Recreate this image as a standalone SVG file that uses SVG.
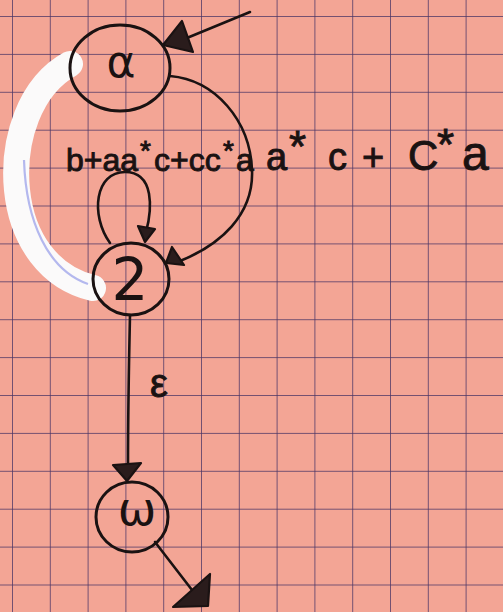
<svg xmlns="http://www.w3.org/2000/svg" width="503" height="612" viewBox="0 0 503 612">
<defs>
<pattern id="grid" x="12" y="16" width="37.8" height="37.9" patternUnits="userSpaceOnUse">
<path d="M0,0 V37.9 M0,0 H37.8" fill="none" stroke="#4a3565" stroke-width="1.5"/>
</pattern>
<style>
.node{fill:none;stroke:#1a1212;stroke-width:3}
.edge{fill:none;stroke:#1a1212;stroke-width:2.6;stroke-linecap:round}
.head{fill:#2a1c1c;stroke:#1a1212;stroke-width:2.2;stroke-linejoin:round}
.sym{font-family:"DejaVu Sans","Liberation Sans",sans-serif;fill:#1a1212;text-anchor:middle}
.lbl{font-family:"Liberation Sans","DejaVu Sans",sans-serif;fill:#1a1212;stroke:#1a1212;stroke-width:0.9}
</style>
</defs>
<rect width="503" height="612" fill="#f3a595"/>
<rect width="503" height="612" fill="url(#grid)"/>
<g id="whiteout">
<path d="M70,64 C30,86 12,140 17,190 C22,240 50,278 93,288" fill="none" stroke="#fbfafa" stroke-width="26" stroke-linecap="round"/>
<path d="M24,160 C26,222 48,270 88,284" fill="none" stroke="#b4b8ee" stroke-width="2.2"/>
</g>
<g id="edges">
<path class="edge" d="M250,12 L182,40"/>
<polygon class="head" points="163,45 182,21 193,52"/>
<path class="edge" d="M170,76 C215,80 250,120 252,170 C254,215 220,245 180,261"/>
<polygon class="head" points="166,263 172,247 184,265"/>
<path class="edge" d="M110,243 C90,215 95,172 125,172 C155,172 152,210 146,232"/>
<polygon class="head" points="145,242 138,226 155,229"/>
<path class="edge" d="M130,315 C129,360 128,420 128,466"/>
<polygon class="head" points="113,465 141,463 127,481"/>
<path class="edge" d="M155,542 L192,590"/>
<polygon class="head" points="173,607 210,574 208,606"/>
</g>
<g id="node-alpha">
<ellipse class="node" cx="120" cy="68" rx="50" ry="43"/>
<text class="sym" x="121" y="77" font-size="44">α</text>
</g>
<g id="node-2">
<ellipse class="node" cx="131" cy="279" rx="38" ry="36"/>
<text class="sym" x="130" y="300" font-size="58">2</text>
</g>
<g id="node-omega">
<ellipse class="node" cx="132" cy="517" rx="36" ry="35"/>
<text class="sym" x="137" y="525" font-size="46">ω</text>
</g>
<g id="labels">
<text class="lbl" y="171" font-size="32"><tspan x="66">b+aa</tspan><tspan x="140" y="160" font-size="28">*</tspan><tspan x="154" y="171">c+cc</tspan><tspan x="223" y="160" font-size="28">*</tspan><tspan x="236" y="171">a</tspan></text>
<text class="lbl" y="170" font-size="38"><tspan x="266">a</tspan><tspan x="289" y="162" font-size="44">*</tspan><tspan x="328" y="170">c</tspan><tspan x="362">+</tspan><tspan x="408" font-size="42">C</tspan><tspan x="437" y="160" font-size="44">*</tspan><tspan x="462" y="170" font-size="48">a</tspan></text>
<text class="lbl" x="150" y="397" font-size="40">ε</text>
</g>
</svg>
